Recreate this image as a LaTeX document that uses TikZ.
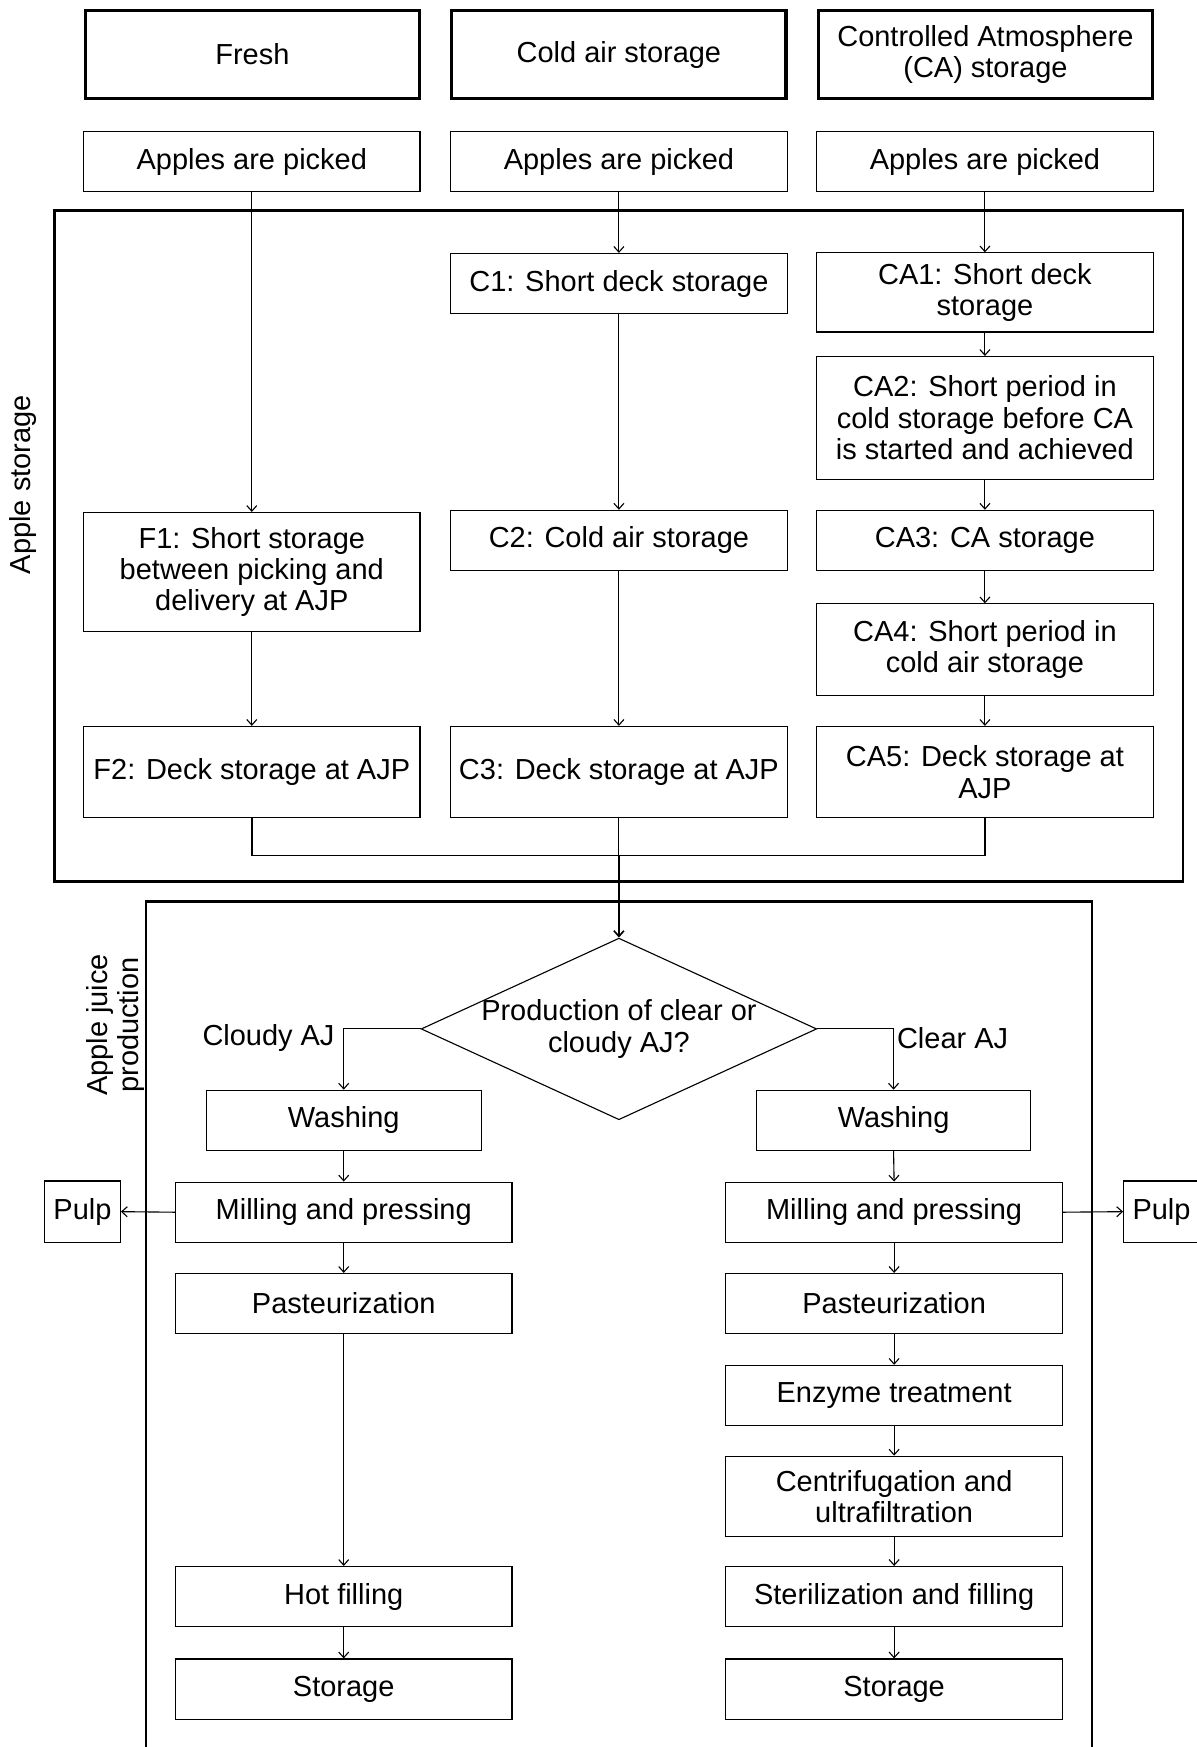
\documentclass[tikz,border=0pt]{standalone}
\usepackage{fontspec}
\setmainfont{Liberation Sans}
\usetikzlibrary{arrows.meta,shapes.geometric}

\begin{document}
\begin{tikzpicture}[x=1pt,y=-1pt,
  every node/.style={font=\fontsize{26}{28}\selectfont, inner sep=0pt, align=center},
  stepbox/.style={draw, line width=1pt, minimum width=302pt, minimum height=#1},
  stepbox/.default=54pt,
  headbox/.style={draw, line width=3pt, minimum width=300pt, minimum height=79pt},
  pulpbox/.style={draw, line width=1pt, minimum width=68pt, minimum height=55pt},
  frame/.style={line width=2.2pt},
  flow/.style={line width=1pt, -{Straight Barb[length=5pt,width=9pt]}},
  joinline/.style={line width=1.3pt},
]
\useasboundingbox (0,0) rectangle (1074,1568);

% storage type headers
\node[headbox] (hF)  at (226.5,49) {Fresh};
\node[headbox] (hC)  at (555.5,49) {Cold air storage};
\node[headbox] (hCA) at (884.5,49) {Controlled Atmosphere\\(CA) storage};

% picking
\node[stepbox] (pF)  at (226,145)   {Apples are picked};
\node[stepbox] (pC)  at (555.5,145) {Apples are picked};
\node[stepbox] (pCA) at (884,145)   {Apples are picked};

% apple storage block
\draw[frame] (49,189) rectangle (1062,791);
\node[rotate=90] (lblS) at (21,435) {Apple storage};

\node[stepbox] (C1) at (555.5,254.5) {C1: Short deck storage};
\node[stepbox=71pt] (CA1) at (884,262.5) {CA1: Short deck\\storage};
\node[stepbox=110pt] (CA2) at (884,375) {CA2: Short period in\\cold storage before CA\\is started and achieved};
\node[stepbox=107pt] (F1) at (226,513.5) {F1: Short storage\\between picking and\\delivery at AJP};
\node[stepbox] (C2) at (555.5,485) {C2: Cold air storage};
\node[stepbox] (CA3) at (884,485) {CA3: CA storage};
\node[stepbox=82pt] (CA4) at (884,583) {CA4: Short period in\\cold air storage};
\node[stepbox=82pt] (F2) at (226,693) {F2: Deck storage at AJP};
\node[stepbox=82pt] (C3) at (555.5,693) {C3: Deck storage at AJP};
\node[stepbox=82pt] (CA5) at (884,693) {CA5: Deck storage at\\AJP};

\draw[flow] (pF.south) -- (F1.north);
\draw[flow] (F1.south) -- (F2.north);
\draw[flow] (pC.south) -- (C1.north);
\draw[flow] (C1.south) -- (C2.north);
\draw[flow] (C2.south) -- (C3.north);
\draw[flow] (pCA.south) -- (CA1.north);
\draw[flow] (CA1.south) -- (CA2.north);
\draw[flow] (CA2.south) -- (CA3.north);
\draw[flow] (CA3.south) -- (CA4.north);
\draw[flow] (CA4.south) -- (CA5.north);

% apple juice production block
\draw[frame] (131,1580) -- (131,809) -- (980,809) -- (980,1580);
\node[rotate=90] (lblJ) at (104,920) {Apple juice\\production};

\node[draw, diamond, line width=1pt, minimum width=355pt, minimum height=163pt,
      label={[align=center]center:Production of clear or\\cloudy AJ?}] (dia) at (555.5,923.5) {};

% merging the three storage routes
\coordinate (jF) at (226,768);
\coordinate (jCA) at (884,768);
\coordinate (jC) at (555.5,768);
\draw[joinline] (F2.south) -- (jF) -- (jCA) -- (CA5.south);
\draw[line width=1pt] (C3.south) -- (jC);
\draw[flow, line width=1.5pt] (jC) -- (dia.north);

\node (lCloudy) at (241,932) {Cloudy AJ};
\node (lClear) at (855,932) {Clear AJ};

% cloudy juice line
\node[stepbox, minimum width=247pt] (wL) at (308.5,1005.5) {Washing};
\node[stepbox] (mL) at (308.5,1088) {Milling and pressing};
\node[pulpbox] (uL) at (74,1087.5) {Pulp};
\node[stepbox] (sL) at (308.5,1170) {Pasteurization};
\node[stepbox] (hL) at (308.5,1433) {Hot filling};
\node[stepbox] (tL) at (308.5,1516) {Storage};

% clear juice line
\node[stepbox, minimum width=246pt] (wR) at (802,1005.5) {Washing};
\node[stepbox] (mR) at (802.5,1088) {Milling and pressing};
\node[pulpbox] (uR) at (1042.5,1087.5) {Pulp};
\node[stepbox] (sR) at (802.5,1170) {Pasteurization};
\node[stepbox] (eR) at (802.5,1252.5) {Enzyme treatment};
\node[stepbox=72pt] (cR) at (802.5,1343) {Centrifugation and\\ultrafiltration};
\node[stepbox] (fR) at (802.5,1433) {Sterilization and filling};
\node[stepbox] (tR) at (802.5,1516) {Storage};

\draw[flow] (dia.west) -| (wL.north);
\draw[flow] (wL.south) -- (mL.north);
\draw[flow] (mL.west) -- (uL.east);
\draw[flow] (mL.south) -- (sL.north);
\draw[flow] (sL.south) -- (hL.north);
\draw[flow] (hL.south) -- (tL.north);

\draw[flow] (dia.east) -| (wR.north);
\draw[flow] (wR.south) -- (mR.north);
\draw[flow] (mR.east) -- (uR.west);
\draw[flow] (mR.south) -- (sR.north);
\draw[flow] (sR.south) -- (eR.north);
\draw[flow] (eR.south) -- (cR.north);
\draw[flow] (cR.south) -- (fR.north);
\draw[flow] (fR.south) -- (tR.north);
\end{tikzpicture}
\end{document}
